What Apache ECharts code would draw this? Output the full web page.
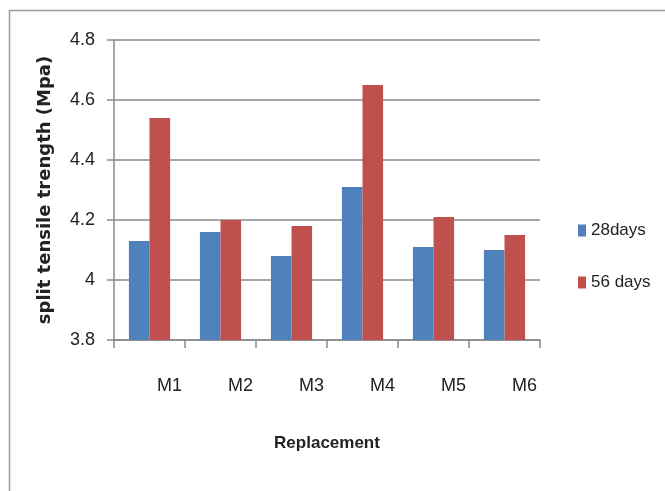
<!DOCTYPE html>
<html>
<head>
<meta charset="utf-8">
<script src="https://cdn.jsdelivr.net/npm/echarts@6/dist/echarts.min.js"></script>
<style>
  html, body { margin: 0; padding: 0; background: #fff; }
  #chart { width: 665px; height: 491px; }
</style>
</head>
<body>
<div id="chart"></div>
<script>
// Mix designs along the x axis
const categories = ['M1', 'M2', 'M3', 'M4', 'M5', 'M6'];
// Split tensile strength (MPa) by curing age
const days28 = [4.13, 4.16, 4.08, 4.31, 4.11, 4.10];
const days56 = [4.54, 4.20, 4.18, 4.65, 4.21, 4.15];
const seriesNames = ['28days', '56 days'];
// Value axis range
const yMin = 3.8, yMax = 4.8, yStep = 0.2;

const narrow = '"Liberation Sans Narrow", "Liberation Sans", Arial, sans-serif';
const gridGrey = '#8a8a8a';

const chart = echarts.init(document.getElementById('chart'), null, { renderer: 'canvas' });
chart.setOption({
  backgroundColor: '#ffffff',
  animation: false,
  graphic: [{
    type: 'rect',
    left: 7, top: 8,
    shape: { width: 700, height: 520 },
    style: { fill: 'none', stroke: '#9a9a9a', lineWidth: 1.5 },
    silent: true
  }],
  grid: { left: 114, right: 125, top: 40, bottom: 151 },
  legend: {
    orient: 'vertical',
    left: 573, top: 217,
    itemWidth: 8, itemHeight: 12,
    itemGap: 35,
    icon: 'rect',
    textStyle: { fontFamily: narrow, fontSize: 17, color: '#222' },
    data: seriesNames
  },
  xAxis: {
    type: 'category',
    data: categories,
    name: 'Replacement',
    nameLocation: 'middle',
    nameGap: 95,
    nameTextStyle: { fontFamily: narrow, fontSize: 17, fontWeight: 'bold', color: '#222' },
    axisLine: { lineStyle: { color: gridGrey, width: 1.5 } },
    axisTick: { show: true, length: 8, lineStyle: { color: gridGrey, width: 1.5 } },
    axisLabel: {
      fontFamily: narrow, fontSize: 18, color: '#222',
      margin: 37,
      padding: [0, 0, 0, 40]
    }
  },
  yAxis: {
    type: 'value',
    min: yMin, max: yMax, interval: yStep,
    name: 'split tensile trength (Mpa)',
    nameLocation: 'middle',
    nameGap: 60,
    nameTextStyle: { fontFamily: '"DejaVu Sans", sans-serif', fontSize: 18, fontWeight: 'bold', color: '#222' },
    axisLine: { show: true, lineStyle: { color: gridGrey, width: 1.5 } },
    axisTick: { show: true, length: 7, lineStyle: { color: gridGrey, width: 1.5 } },
    axisLabel: { fontFamily: narrow, fontSize: 18, color: '#222', margin: 19 },
    splitLine: { show: true, lineStyle: { color: gridGrey, width: 1.5 } }
  },
  series: [
    {
      name: seriesNames[0], type: 'bar', data: days28,
      barGap: '0%', barCategoryGap: '42%',
      itemStyle: { color: '#4F81BD' }
    },
    {
      name: seriesNames[1], type: 'bar', data: days56,
      barGap: '0%', barCategoryGap: '42%',
      itemStyle: { color: '#C0504D' }
    }
  ]
});
</script>
</body>
</html>
